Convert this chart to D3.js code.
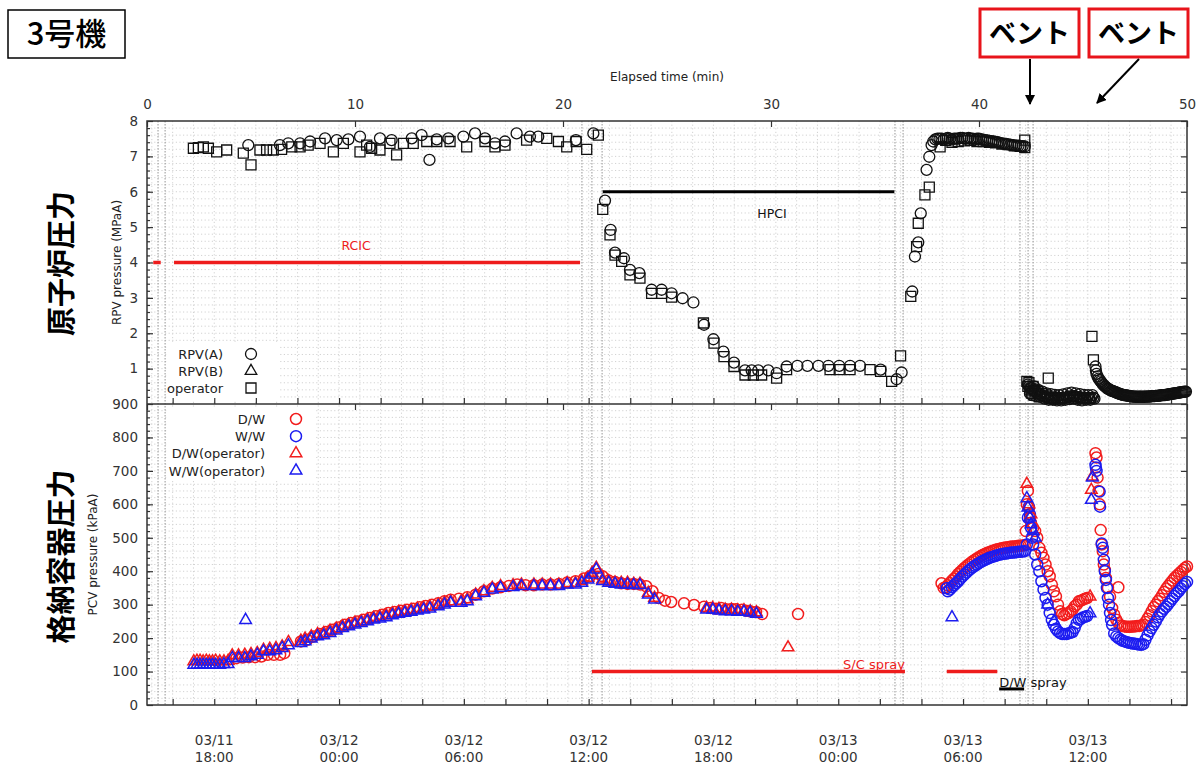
<!DOCTYPE html>
<html><head><meta charset="utf-8">
<script src="https://cdn.jsdelivr.net/npm/d3@7"></script>
<style>body{margin:0;background:#fff}svg{display:block}text{font-family:"DejaVu Sans",sans-serif}</style>
</head><body><svg id="c" width="1203" height="769"></svg>
<script>
// ---------------- DATA (elapsed hours, value) ----------------
const elapsedTicks=[0,10,20,30,40,50];
const rpvTicks=[1,2,3,4,5,6,7,8];
const pcvTicks=[0,100,200,300,400,500,600,700,800,900];
const dateLabels=[["03/11","18:00"],["03/12","00:00"],["03/12","06:00"],["03/12","12:00"],["03/12","18:00"],["03/13","00:00"],["03/13","06:00"],["03/13","12:00"]];
const eventHours=[0.53,0.87,20.91,21.39,21.88,35.96,36.35,41.97,42.36,42.6];

const rpvA=[[4.87,7.32],[6.39,7.32],[6.79,7.37],[7.36,7.37],[7.84,7.42],[8.56,7.51],[9.12,7.46],[9.68,7.48],[10.24,7.56],[10.72,7.27],[11.2,7.51],[11.76,7.46],[12.73,7.51],[13.2,7.6],[13.58,6.9],[13.93,7.48],[14.49,7.51],[15.21,7.56],[15.77,7.65],[16.25,7.51],[16.73,7.37],[17.21,7.42],[17.77,7.65],[18.41,7.56],[18.81,7.56],[20.62,7.46],[21.46,7.65],
[22.02,5.75],[22.29,4.92],[22.5,4.28],[22.93,4.12],[23.22,3.79],[23.67,3.7],[24.26,3.23],[24.74,3.23],[25.22,3.13],[25.75,2.99],[26.27,2.87],[26.78,2.24],[27.23,1.83],[27.71,1.48],[28.22,1.17],[28.75,0.95],[29.07,0.95],[29.39,0.95],[29.87,0.95],[30.27,0.87],[30.75,1.06],[31.27,1.08],[31.75,1.08],[32.28,1.08],[32.76,1.08],[33.28,1.08],[33.8,1.08],[34.28,1.08],[35.27,0.97],[36.04,0.7],[36.28,0.89],
[36.79,3.18],[36.92,4.17],[37.08,4.57],[37.2,5.39],[37.48,6.62],[37.61,6.99],[37.72,7.32],
[37.8,7.42],[37.9,7.48],[38.0,7.5],[38.1,7.5],[38.2,7.5],[38.3,7.48],[38.4,7.5],[38.5,7.52],[38.6,7.5],[38.7,7.48],[38.8,7.5],[38.9,7.5],[39.0,7.5],[39.1,7.52],[39.2,7.52],[39.3,7.5],[39.4,7.5],[39.5,7.52],[39.6,7.5],[39.7,7.5],[39.8,7.48],[39.9,7.5],[40.0,7.5],[40.1,7.48],[40.2,7.47],[40.3,7.46],[40.4,7.45],[40.5,7.44],[40.6,7.43],[40.7,7.42],[40.8,7.41],[40.9,7.4],[41.0,7.38],[41.1,7.37],[41.2,7.36],[41.3,7.35],[41.4,7.34],[41.5,7.33],[41.6,7.32],[41.7,7.31],[41.8,7.3],[41.9,7.3],[42.0,7.29],[42.1,7.29],[42.2,7.28],
[42.35,0.55],[42.4,0.5],[42.45,0.3],[42.5,0.45],[42.55,0.25],[42.6,0.4],[42.65,0.5],[42.7,0.35],[42.75,0.22],[42.8,0.3],[42.85,0.4],[42.9,0.28],[42.95,0.2],[43.0,0.25],[43.05,0.35],[43.1,0.22],[43.15,0.15],[43.2,0.2],[43.25,0.3],[43.3,0.18],[43.35,0.12],[43.4,0.17],[43.45,0.28],[43.5,0.16],[43.55,0.12],[43.6,0.15],[43.65,0.26],[43.7,0.15],[43.75,0.1],[43.8,0.15],[43.85,0.25],[43.9,0.15],[43.95,0.1],[44.0,0.16],[44.05,0.27],[44.1,0.17],[44.15,0.12],[44.2,0.18],[44.25,0.3],[44.3,0.2],[44.35,0.14],[44.4,0.2],[44.45,0.32],[44.5,0.22],[44.55,0.15],[44.6,0.22],[44.65,0.3],[44.7,0.2],[44.75,0.12],[44.8,0.18],[44.85,0.28],[44.9,0.17],[44.95,0.1],[45.0,0.17],[45.05,0.26],[45.1,0.17],[45.15,0.12],[45.2,0.17],[45.25,0.25],[45.3,0.17],[45.35,0.12],[45.4,0.17],[45.45,0.25],[45.5,0.18],[45.55,0.15],
[45.6,1.06],[45.62,0.95],[45.65,0.85],[45.7,0.78],[45.75,0.72],[45.8,0.68],[45.85,0.64],[45.9,0.6],[45.95,0.56],[46.0,0.53],[46.05,0.5],[46.1,0.48],[46.15,0.45],[46.2,0.43],[46.25,0.42],[46.3,0.4],[46.35,0.38],[46.4,0.37],[46.45,0.36],[46.5,0.35],[46.55,0.34],[46.6,0.33],[46.65,0.31],[46.7,0.3],[46.75,0.29],[46.8,0.28],[46.85,0.27],[46.9,0.26],[46.95,0.255],[47.0,0.25],[47.05,0.245],[47.1,0.24],[47.15,0.235],[47.2,0.23],[47.25,0.225],[47.3,0.22],[47.35,0.215],[47.4,0.21],[47.45,0.21],[47.5,0.21],[47.55,0.205],[47.6,0.21],[47.65,0.2],[47.7,0.21],[47.75,0.205],[47.8,0.21],[47.85,0.2],[47.9,0.21],[47.95,0.205],[48.0,0.21],[48.05,0.21],[48.1,0.21],[48.15,0.215],[48.2,0.21],[48.25,0.215],[48.3,0.22],[48.35,0.22],[48.4,0.22],[48.45,0.225],[48.5,0.23],[48.55,0.23],[48.6,0.23],[48.65,0.235],[48.7,0.24],[48.75,0.245],[48.8,0.25],[48.85,0.25],[48.9,0.25],[48.95,0.255],[49.0,0.26],[49.05,0.265],[49.1,0.27],[49.15,0.275],[49.2,0.28],[49.25,0.285],[49.3,0.29],[49.35,0.295],[49.4,0.3],[49.45,0.305],[49.5,0.31],[49.55,0.315],[49.6,0.32],[49.65,0.325],[49.7,0.33],[49.75,0.335],[49.8,0.34],[49.85,0.345],[49.9,0.35],[49.95,0.35]];
const rpvB=[];
const rpvOperator=[[2.23,7.23],[2.47,7.25],[2.71,7.27],[2.95,7.23],[3.35,7.13],[3.83,7.18],[4.63,7.09],[5.0,6.76],[5.43,7.18],[5.75,7.18],[6.07,7.18],[6.47,7.2],[6.96,7.27],[7.36,7.27],[7.75,7.32],[8.32,7.37],[8.96,7.13],[9.44,7.37],[10.24,7.13],[10.56,7.32],[10.8,7.23],[11.2,7.18],[11.68,7.37],[12.0,7.04],[12.33,7.37],[12.8,7.37],[13.45,7.42],[13.93,7.42],[14.57,7.42],[15.37,7.27],[16.25,7.42],[16.73,7.27],[17.21,7.32],[18.25,7.46],[19.22,7.51],[19.78,7.42],[20.18,7.27],[20.63,7.42],[21.14,7.2],[21.7,7.6],
[21.91,5.5],[22.26,4.78],[22.5,4.21],[22.82,4.03],[23.22,3.65],[23.7,3.56],[24.26,3.13],[24.74,3.13],[25.22,3.02],[26.75,2.29],[27.26,1.72],[27.74,1.34],[28.22,1.06],[28.75,0.82],[29.15,0.82],[29.55,0.82],[30.27,0.73],[30.75,0.97],[32.84,0.97],[33.28,0.97],[33.8,0.97],[34.76,0.97],[35.27,0.92],[35.8,0.64],[36.23,1.36],
[36.72,3.04],[37.0,4.45],[37.08,5.11],[37.4,5.91],[37.61,6.13],[38.13,7.27],[38.4,7.45],[38.7,7.4],[39.0,7.42],[39.3,7.44],[39.6,7.45],[39.9,7.42],[40.2,7.42],[40.5,7.4],[40.8,7.38],[41.1,7.35],[41.4,7.33],[41.7,7.3],[42.0,7.28],[42.2,7.46],[42.2,7.25],
[42.3,0.64],[42.35,0.5],[42.4,0.6],[42.45,0.4],[42.5,0.45],[42.55,0.3],[42.6,0.5],[42.65,0.25],[42.7,0.38],[42.8,0.35],[42.9,0.2],[43.0,0.3],[43.2,0.25],[43.33,0.73],[43.5,0.2],[43.8,0.18],[44.1,0.18],[44.4,0.22],[44.7,0.2],[45.0,0.18],[45.3,0.18],[45.43,1.91],[45.5,1.25]];

const dwCircle=[[4.3,140],[4.6,142],[4.9,143],[5.2,143],[5.5,145],[5.8,150],[6.1,150],[6.4,150],[6.6,155],[7.4,190],[7.7,195],[8.0,205],[8.3,212],[8.6,218],[8.9,225],[9.2,232],[9.5,240],[9.8,245],[10.1,250],[10.4,255],[10.7,260],[11.0,265],[11.3,270],[11.6,275],[11.9,278],[12.2,282],[12.5,285],[12.8,288],[13.1,292],[13.4,296],[13.7,300],[14.0,304],[14.3,310],[14.6,315],[15.0,318],[15.4,322],[15.8,330],[16.2,340],[16.6,348],[17.0,352],[17.4,356],[17.8,360],[18.2,358],[18.6,358],[19.0,360],[19.4,360],[19.8,362],[20.2,366],[20.6,370],[21.0,378],[21.3,385],[21.7,392],[21.9,385],[22.2,372],[22.5,368],[22.8,364],[23.1,362],[23.4,362],[23.7,360],[24.0,355],[24.3,340],[24.6,320],[24.9,312],[25.2,308],[25.82,304],[26.3,299],[26.78,294],[27.1,290],[27.36,288],[27.6,290],[27.84,286],[28.1,287],[28.32,286],[28.6,285],[28.8,282],[29.0,280],[29.28,278],[29.57,272],[31.3,272],
[38.2,364],[38.3,350],[38.4,352],[38.5,358],[38.6,365],[38.7,372],[38.8,378],[38.9,384],[39.0,392],[39.1,398],[39.2,404],[39.3,410],[39.4,415],[39.5,420],[39.6,425],[39.7,430],[39.8,434],[39.9,438],[40.0,442],[40.1,446],[40.2,449],[40.3,452],[40.4,455],[40.5,457],[40.6,460],[40.7,462],[40.8,464],[40.9,466],[41.0,467],[41.1,469],[41.2,470],[41.3,471],[41.4,472],[41.5,473],[41.6,474],[41.7,474],[41.8,475],[41.9,476],[42.0,476],[42.1,477],[42.2,478],
[42.25,520],[42.3,600],[42.35,640],[42.4,590],[42.45,560],[42.5,545],[42.6,530],[42.7,520],[42.8,500],[42.9,470],[43.0,455],[43.1,440],[43.2,420],[43.3,400],[43.4,385],[43.5,360],[43.6,340],[43.7,325],[43.8,300],[43.9,280],[44.0,272],[44.1,268],[44.2,272],[44.3,275],[44.4,280],[44.5,285],[44.6,295],[44.7,300],[44.8,310],[44.9,312],[45.0,315],[45.1,318],[45.2,320],
[45.6,753],[45.65,740],[45.7,680],[45.75,640],[45.8,600],[45.85,523],[45.9,480],[45.95,460],[46.0,420],[46.05,404],[46.1,380],[46.2,350],[46.3,324],[46.4,290],[46.5,270],[46.6,255],[46.7,245],[46.7,352],[46.8,238],[46.9,236],[47.0,235],[47.1,234],[47.2,234],[47.3,234],[47.4,235],[47.5,235],[47.6,236],[47.7,236],[47.8,238],[47.9,240],[48.0,248],[48.1,258],[48.2,268],[48.3,280],[48.4,292],[48.5,300],[48.6,310],[48.7,318],[48.8,328],[48.9,338],[49.0,348],[49.1,356],[49.2,364],[49.3,372],[49.4,380],[49.5,386],[49.6,392],[49.7,398],[49.8,404],[49.9,410],[50.0,414]];
const wwCircle=[[38.45,349],[38.5,340],[38.6,345],[38.7,352],[38.8,358],[38.9,364],[39.0,370],[39.1,377],[39.2,384],[39.3,390],[39.4,396],[39.5,402],[39.6,407],[39.7,412],[39.8,416],[39.9,420],[40.0,424],[40.1,428],[40.2,431],[40.3,434],[40.4,437],[40.5,440],[40.6,442],[40.7,444],[40.8,446],[40.9,448],[41.0,450],[41.1,451],[41.2,452],[41.3,453],[41.4,454],[41.5,455],[41.6,456],[41.7,456],[41.8,457],[41.9,458],[42.0,458],[42.1,459],[42.2,460],
[42.3,480],[42.35,560],[42.4,593],[42.45,570],[42.5,530],[42.55,500],[42.6,480],[42.7,450],[42.8,420],[42.9,400],[43.0,370],[43.1,345],[43.2,320],[43.3,300],[43.4,275],[43.5,255],[43.6,240],[43.7,228],[43.8,220],[43.9,215],[44.0,212],[44.1,212],[44.2,212],[44.3,214],[44.4,216],[44.5,218],[44.6,230],[44.7,245],[44.8,255],[44.9,258],[45.0,262],[45.1,264],[45.2,266],
[45.6,718],[45.62,710],[45.65,700],[45.8,638],[45.82,593],[45.9,483],[45.95,470],[46.0,434],[46.05,400],[46.1,374],[46.15,350],[46.2,320],[46.25,300],[46.3,275],[46.35,254],[46.4,240],[46.5,214],[46.6,205],[46.7,200],[46.8,196],[46.9,192],[47.0,190],[47.1,188],[47.2,186],[47.3,185],[47.4,184],[47.5,183],[47.6,182],[47.7,181],[47.8,180],[47.9,182],[48.0,195],[48.1,208],[48.2,220],[48.3,230],[48.4,240],[48.5,250],[48.6,262],[48.7,272],[48.8,280],[48.9,288],[49.0,294],[49.1,302],[49.2,310],[49.3,318],[49.4,326],[49.5,334],[49.6,340],[49.7,348],[49.8,355],[49.9,362],[50.0,368]];
const dwOperator=[[2.25,130],[2.4,132],[2.55,132],[2.7,130],[2.85,132],[3.0,130],[3.15,130],[3.3,132],[3.5,130],[3.7,130],[3.9,132],[4.1,148],[4.4,148],[4.7,150],[5.0,152],[5.3,155],[5.6,165],[5.9,168],[6.2,170],[6.5,175],[6.8,188],[7.4,192],[7.6,198],[7.9,205],[8.2,212],[8.5,215],[8.8,222],[9.1,228],[9.4,235],[9.7,240],[10.0,246],[10.3,250],[10.6,256],[10.9,260],[11.2,264],[11.5,268],[11.8,274],[12.1,278],[12.4,280],[12.7,284],[13.0,288],[13.3,290],[13.6,294],[14.0,300],[14.3,306],[14.6,310],[15.1,310],[15.4,316],[15.8,330],[16.2,340],[16.6,350],[17.0,355],[17.6,358],[18.0,360],[18.6,360],[19.0,360],[19.4,360],[19.8,360],[20.2,364],[20.6,364],[20.9,370],[21.2,380],[21.4,395],[21.6,410],[21.9,375],[22.2,370],[22.5,366],[22.8,365],[23.1,365],[23.4,362],[23.7,362],[24.1,335],[24.4,320],[26.9,290],[27.2,290],[27.5,287],[27.8,285],[28.1,285],[28.4,283],[28.7,283],[29.0,280],[29.3,277],[30.82,172],[42.3,661],[42.4,600],[42.5,570],[45.34,324],[45.4,643],[45.45,683]];
const wwOperator=[[2.25,120],[2.4,120],[2.55,120],[2.7,120],[2.85,120],[3.0,120],[3.15,120],[3.3,120],[3.5,120],[3.7,122],[3.9,122],[4.1,140],[4.4,140],[4.7,140],[4.74,254],[5.0,145],[5.3,150],[5.6,160],[5.9,160],[6.2,163],[6.5,170],[6.8,178],[7.4,185],[7.6,190],[7.9,198],[8.2,205],[8.5,208],[8.8,215],[9.1,222],[9.4,230],[9.7,235],[10.0,240],[10.3,245],[10.6,250],[10.9,255],[11.2,258],[11.5,262],[11.8,268],[12.1,272],[12.4,275],[12.7,278],[13.0,282],[13.3,285],[13.6,288],[14.0,295],[14.3,300],[14.6,305],[15.1,305],[15.4,310],[15.8,325],[16.2,335],[16.6,345],[17.0,350],[17.6,352],[18.0,355],[18.6,355],[19.0,355],[19.4,355],[19.8,355],[20.2,360],[20.6,360],[20.9,365],[21.2,375],[21.4,390],[21.6,405],[21.9,370],[22.2,365],[22.5,362],[22.8,360],[23.1,360],[23.4,358],[23.7,358],[24.1,330],[24.4,315],[26.9,285],[27.2,285],[27.5,282],[27.8,280],[28.1,280],[28.4,278],[28.7,278],[29.0,276],[29.3,272],[38.7,262],[42.3,618],[42.35,590],[42.45,560],[42.5,540],[42.6,520],[42.7,500],[43.3,300],[43.6,250],[45.34,274],[45.4,613],[45.45,680]];

const rcic=[[0.3,0.66],[1.3,20.82]], rcicLevel=4;
const hpci=[[21.91,35.93]], hpciLevel=6;
const scSpray=[[21.39,36.44],[38.45,40.88]], scLevel=100;
const dwSpray=[[40.97,42.17]], dwLevel=48;

// ---------------- CHART ----------------
const svg=d3.select('#c');
const L=147,R=1187,T=121,M=404,B=705;
const xH=d3.scaleLinear().domain([0,50]).range([L,R]);
const t0=new Date(2011,2,11,14,46), t1=new Date(+t0+50*3600e3);
const xT=d3.scaleTime().domain([t0,t1]).range([L,R]);
const yU=d3.scaleLinear().domain([0,8]).range([M,T]);
const yL=d3.scaleLinear().domain([0,900]).range([B,M]);
const gridC='#d2d2d2';

// grid
const grid=svg.append('g');
grid.selectAll('.vg').data(d3.timeHour.every(1).range(t0,t1)).join('line')
  .attr('x1',d=>xT(d)).attr('x2',d=>xT(d)).attr('y1',T).attr('y2',B)
  .attr('stroke',gridC).attr('stroke-dasharray','1.2,2.4');
grid.selectAll('.hu').data(d3.range(1,40).map(i=>i*0.2)).join('line')
  .attr('x1',L).attr('x2',R).attr('y1',d=>yU(d)).attr('y2',d=>yU(d))
  .attr('stroke',gridC).attr('stroke-dasharray','1.2,2.4');
grid.selectAll('.hl').data(d3.range(1,45).map(i=>i*20)).join('line')
  .attr('x1',L).attr('x2',R).attr('y1',d=>yL(d)).attr('y2',d=>yL(d))
  .attr('stroke',gridC).attr('stroke-dasharray','1.2,2.4');
// event lines
grid.selectAll('.ev').data(eventHours).join('line')
  .attr('x1',d=>xH(d)).attr('x2',d=>xH(d)).attr('y1',T).attr('y2',B)
  .attr('stroke','#a0a0a0').attr('stroke-width',1.1).attr('stroke-dasharray','1.5,1.5');

// legend backgrounds
svg.append('rect').attr('x',168).attr('y',343).attr('width',112).attr('height',58).attr('fill','#fff');
svg.append('rect').attr('x',168).attr('y',408).attr('width',146).attr('height',72).attr('fill','#fff');

// axes
const axC='#333';
function styleAxis(g){g.select('.domain').remove();g.selectAll('line').attr('stroke',axC).attr('stroke-width',1.2);g.selectAll('text').attr('fill','#333').style('font-family','DejaVu Sans').style('font-size','13.5px');}
svg.append('g').attr('transform',`translate(${L},0)`).call(d3.axisLeft(yU).tickValues(rpvTicks).tickSize(-6).tickPadding(9).tickFormat(d3.format('d'))).call(styleAxis);
svg.append('g').attr('transform',`translate(${L},0)`).call(d3.axisLeft(yU).tickValues(d3.range(1,40).map(i=>i*0.2)).tickSize(-3).tickFormat('')).call(styleAxis);
svg.append('g').attr('transform',`translate(${L},0)`).call(d3.axisLeft(yL).tickValues(pcvTicks).tickSize(-6).tickPadding(9)).call(styleAxis);
svg.append('g').attr('transform',`translate(${L},0)`).call(d3.axisLeft(yL).tickValues(d3.range(1,45).map(i=>i*20)).tickSize(-3).tickFormat('')).call(styleAxis);
svg.append('g').attr('transform',`translate(${R},0)`).call(d3.axisRight(yU).tickValues(rpvTicks).tickSize(-6).tickFormat('')).call(styleAxis);
svg.append('g').attr('transform',`translate(${R},0)`).call(d3.axisRight(yL).tickValues(pcvTicks).tickSize(-6).tickFormat('')).call(styleAxis);
// top elapsed axis
svg.append('g').attr('transform',`translate(0,${T})`).call(d3.axisTop(xH).tickValues(elapsedTicks).tickSize(-6).tickPadding(12)).call(styleAxis);
svg.append('g').attr('transform',`translate(0,${M})`).call(d3.axisTop(xH).tickValues(elapsedTicks).tickSize(-6).tickFormat('')).call(styleAxis);
// date ticks
svg.append('g').attr('transform',`translate(0,${B})`).call(d3.axisBottom(xT).ticks(d3.timeHour.every(2)).tickSize(-6).tickFormat('')).call(styleAxis);
svg.append('g').attr('transform',`translate(0,${M})`).call(d3.axisBottom(xT).ticks(d3.timeHour.every(2)).tickSize(-6).tickFormat('')).call(styleAxis);
// date labels
const labTimes=d3.timeHour.every(6).range(new Date(2011,2,11,18),t1);
const dl=svg.append('g').selectAll('text').data(labTimes).join('text')
  .attr('x',d=>xT(d)).attr('text-anchor','middle').attr('fill','#333').style('font-size','13.5px');
dl.append('tspan').attr('x',d=>xT(d)).attr('y',745).text((d,i)=>dateLabels[i][0]);
dl.append('tspan').attr('x',d=>xT(d)).attr('y',762).text((d,i)=>dateLabels[i][1]);

// frame
svg.append('rect').attr('x',L).attr('y',T).attr('width',R-L).attr('height',B-T).attr('fill','none').attr('stroke',axC).attr('stroke-width',1.5);
svg.append('line').attr('x1',L).attr('x2',R).attr('y1',M).attr('y2',M).attr('stroke',axC).attr('stroke-width',1.5);

// equipment bars
const bars=svg.append('g');
function bar(data,level,ys,color,w){bars.selectAll(null).data(data).join('line').attr('x1',d=>xH(d[0])).attr('x2',d=>xH(d[1])).attr('y1',ys(level)).attr('y2',ys(level)).attr('stroke',color).attr('stroke-width',w);}
bar(rcic,rcicLevel,yU,'#ee1c1c',3.5);
bar(hpci,hpciLevel,yU,'#000',3);
bar(scSpray,scLevel,yL,'#ee1c1c',3.5);
bar(dwSpray,dwLevel,yL,'#000',3);
function lab(x,y,t,c,anchor,size){svg.append('text').attr('x',x).attr('y',y).attr('fill',c).attr('text-anchor',anchor||'middle').style('font-size',(size||12)+'px').text(t);}
lab(xH(10.05),yU(4)-13,'RCIC','#ee1c1c','middle',12.5);
lab(xH(30.05),yU(6)+26,'HPCI','#111','middle',12.5);
lab(xH(36.44),yL(scLevel)-3,'S/C spray','#ee1c1c','end',13);
lab(xH(40.97),yL(dwLevel)-2,'D/W spray','#111','start',13);

// markers
const pts=svg.append('g');
const sym={circle:d3.symbol().type(d3.symbolCircle).size(95)(),square:d3.symbol().type(d3.symbolSquare).size(100)(),triangle:d3.symbol().type(d3.symbolTriangle).size(58)()};
function draw(data,ys,shape,color,sw){pts.append('g').selectAll('path').data(data).join('path').attr('d',sym[shape])
  .attr('transform',d=>`translate(${xH(d[0])},${ys(d[1])})`).attr('fill','none').attr('stroke',color).attr('stroke-width',sw);}
draw(rpvOperator,yU,'square','#111',1.3);
draw(rpvA,yU,'circle','#111',1.3);
draw(rpvB,yU,'triangle','#111',1.3);
const RED='#f21d1d',BLUE='#1c1cf0';
draw(dwCircle,yL,'circle',RED,1.5);
draw(wwCircle,yL,'circle',BLUE,1.5);
draw(dwOperator,yL,'triangle',RED,1.5);
draw(wwOperator,yL,'triangle',BLUE,1.5);

// legends
const legU=[['RPV(A)','circle','#111'],['RPV(B)','triangle','#111'],['operator','square','#111']];
legU.forEach((d,i)=>{const y=354+i*17;lab(223,y+5,d[0],'#222','end',13);
  svg.append('path').attr('d',sym[d[1]]).attr('transform',`translate(251,${y})`).attr('fill','none').attr('stroke',d[2]).attr('stroke-width',1.3);});
const legL=[['D/W','circle',RED],['W/W','circle',BLUE],['D/W(operator)','triangle',RED],['W/W(operator)','triangle',BLUE]];
legL.forEach((d,i)=>{const y=419+i*17.2;lab(265,y+5,d[0],'#222','end',13);
  svg.append('path').attr('d',sym[d[1]]).attr('transform',`translate(296,${y})`).attr('fill','none').attr('stroke',d[2]).attr('stroke-width',1.5);});

// axis titles
lab((L+R)/2,81,'Elapsed time (min)','#222','middle',12);
svg.append('text').attr('transform',`translate(121,${(T+M)/2}) rotate(-90)`).attr('text-anchor','middle').attr('fill','#222').style('font-size','12px').text('RPV pressure (MPaA)');
svg.append('text').attr('transform',`translate(97,${(M+B)/2}) rotate(-90)`).attr('text-anchor','middle').attr('fill','#222').style('font-size','12px').text('PCV pressure (kPaA)');
const jp='"Noto Sans CJK JP",sans-serif';
svg.append('text').attr('transform',`translate(72,${(T+M)/2+1}) rotate(-90)`).attr('text-anchor','middle').attr('fill','#000').style('font-family',jp).style('font-weight','bold').style('font-size','29px').text('原子炉圧力');
svg.append('text').attr('transform',`translate(72,${(M+B)/2+2}) rotate(-90)`).attr('text-anchor','middle').attr('fill','#000').style('font-family',jp).style('font-weight','bold').style('font-size','29px').text('格納容器圧力');

// title box
svg.append('rect').attr('x',8).attr('y',10).attr('width',117).attr('height',48).attr('fill','#fff').attr('stroke','#000').attr('stroke-width',1.5);
svg.append('text').attr('x',66.5).attr('y',45).attr('text-anchor','middle').style('font-family',jp).style('font-weight','500').style('font-size','31px').text('3号機');

// vent boxes & arrows
const defs=svg.append('defs');
defs.append('marker').attr('id','ah').attr('viewBox','0 0 10 10').attr('refX',9).attr('refY',5).attr('markerWidth',5).attr('markerHeight',5).attr('orient','auto')
  .append('path').attr('d','M0,0L10,5L0,10Z').attr('fill','#000');
[[980,1030,1030,104],[1089,1139,1097,103]].forEach(b=>{
  svg.append('rect').attr('x',b[0]).attr('y',9).attr('width',99).attr('height',48).attr('fill','#fff').attr('stroke','#e8141b').attr('stroke-width',3);
  svg.append('text').attr('x',b[0]+49.5).attr('y',43).attr('text-anchor','middle').style('font-family',jp).style('font-weight','bold').style('font-size','27px').text('ベント');
  svg.append('line').attr('x1',b[1]).attr('y1',59).attr('x2',b[2]).attr('y2',b[3]).attr('stroke','#000').attr('stroke-width',2).attr('marker-end','url(#ah)');
});
</script></body></html>
